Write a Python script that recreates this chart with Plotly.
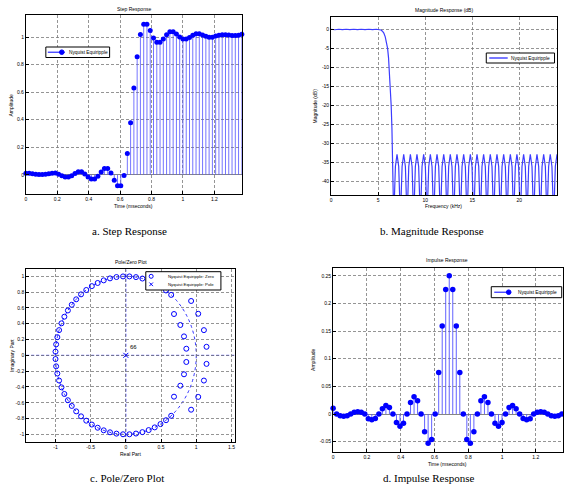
import plotly.graph_objects as go

# ---------------- data ----------------
fs_khz = 48.0
sample_index = list(range(67))
sample_time_ms = [n / fs_khz for n in sample_index]

step_values = [
    0.010, 0.010, 0.008, 0.004, 0.001, 0.001, 0.004, 0.008, 0.011, 0.012,
    0.003, -0.008, -0.016, -0.016, -0.007, 0.009, 0.021, 0.021, 0.006, -0.016,
    -0.031, -0.031, -0.011, 0.020, 0.045, 0.045, 0.013, -0.040, -0.080, -0.080,
    -0.005, 0.155, 0.378, 0.630, 0.857, 1.018, 1.092, 1.092, 1.047, 0.993,
    0.962, 0.962, 0.986, 1.017, 1.038, 1.038, 1.022, 1.000, 0.985, 0.985,
    0.997, 1.013, 1.023, 1.023, 1.015, 1.005, 0.998, 0.998, 1.008, 1.013,
    1.016, 1.016, 1.014, 1.012, 1.012, 1.013, 1.020,
]

impulse_values = [
    0.0105, 0.0, -0.003, -0.004, -0.003, 0.0, 0.003, 0.004, 0.003, 0.0,
    -0.0085, -0.0105, -0.008, 0.0, 0.0095, 0.0155, 0.012, 0.0, -0.0155, -0.022,
    -0.0165, 0.0, 0.021, 0.031, 0.024, 0.0, -0.032, -0.053, -0.046, 0.0,
    0.075, 0.159, 0.225, 0.25, 0.225, 0.159, 0.075, 0.0, -0.046, -0.053,
    -0.032, 0.0, 0.024, 0.031, 0.021, 0.0, -0.0165, -0.022, -0.0155, 0.0,
    0.012, 0.0155, 0.0095, 0.0, -0.008, -0.0105, -0.0085, 0.0, 0.003, 0.004,
    0.003, 0.0, -0.003, -0.004, -0.003, 0.0, 0.0105,
]

mag_freq_khz = [
    0.0, 0.4, 0.8, 1.2, 1.6, 2.0, 2.4, 2.8, 3.2, 3.6, 4.0, 4.4, 4.8,
    5.1, 5.3, 5.45, 5.6, 5.75, 5.9, 6.0, 6.1, 6.2, 6.3, 6.38, 6.46, 6.53, 6.6, 6.65,
    6.83, 7.00, 7.18, 7.36,
    7.54, 7.71, 7.89, 8.07,
    8.25, 8.42, 8.60, 8.77,
    8.95, 9.12, 9.30, 9.48,
    9.66, 9.83, 10.01, 10.19,
    10.37, 10.54, 10.72, 10.90,
    11.08, 11.25, 11.43, 11.61,
    11.79, 11.96, 12.14, 12.31,
    12.49, 12.66, 12.84, 13.02,
    13.20, 13.37, 13.55, 13.73,
    13.91, 14.08, 14.26, 14.44,
    14.62, 14.79, 14.97, 15.15,
    15.33, 15.50, 15.68, 15.85,
    16.03, 16.20, 16.38, 16.56,
    16.74, 16.91, 17.09, 17.27,
    17.45, 17.62, 17.80, 17.98,
    18.16, 18.33, 18.51, 18.69,
    18.87, 19.04, 19.22, 19.39,
    19.57, 19.74, 19.92, 20.10,
    20.28, 20.45, 20.63, 20.81,
    20.99, 21.16, 21.34, 21.52,
    21.70, 21.87, 22.05, 22.23,
    22.41, 22.58, 22.76, 22.93,
    23.11, 23.28, 23.46, 23.64,
    23.82, 24.0,
]

mag_db = [
    0.0, -0.12, 0.0, -0.1, 0.0, -0.1, 0.0, -0.1, 0.0, -0.1, 0.0, -0.1, 0.0,
    -0.05, -0.2, -0.5, -1.0, -2.0, -3.4, -5.0, -7.5, -11.0, -15.5, -20.0, -26.0, -32.5, -40.0, -50.0,
    -36.0, -32.8, -36.0, -50.0,
    -36.0, -32.8, -36.0, -50.0,
    -36.0, -32.8, -36.0, -50.0,
    -36.0, -32.8, -36.0, -50.0,
    -36.0, -32.8, -36.0, -50.0,
    -36.0, -32.8, -36.0, -50.0,
    -36.0, -32.8, -36.0, -50.0,
    -36.0, -32.8, -36.0, -50.0,
    -36.0, -32.8, -36.0, -50.0,
    -36.0, -32.8, -36.0, -50.0,
    -36.0, -32.8, -36.0, -50.0,
    -36.0, -32.8, -36.0, -50.0,
    -36.0, -32.8, -36.0, -50.0,
    -36.0, -32.8, -36.0, -50.0,
    -36.0, -32.8, -36.0, -50.0,
    -36.0, -32.8, -36.0, -50.0,
    -36.0, -32.8, -36.0, -50.0,
    -36.0, -32.8, -36.0, -50.0,
    -36.0, -32.8, -36.0, -50.0,
    -36.0, -32.8, -36.0, -50.0,
    -36.0, -32.8, -36.0, -50.0,
    -36.0, -32.8, -36.0, -50.0,
    -36.0, -32.8, -36.0, -50.0,
    -36.0, -32.8, -36.0, -50.0,
    -36.0, -32.8,
]

zero_re = [
    # upper unit-circle zeros
    0.644, 0.571, 0.492, 0.410, 0.324, 0.235, 0.144, 0.051, -0.040, -0.133,
    -0.225, -0.314, -0.400, -0.483, -0.562, -0.636, -0.705, -0.768, -0.823, -0.873,
    -0.914, -0.948, -0.973, -0.990, -0.999,
    # lower unit-circle zeros
    0.644, 0.571, 0.492, 0.410, 0.324, 0.235, 0.144, 0.051, -0.040, -0.133,
    -0.225, -0.314, -0.400, -0.483, -0.562, -0.636, -0.705, -0.768, -0.823, -0.873,
    -0.914, -0.948, -0.973, -0.990, -0.999,
    # inner passband zeros
    0.684, 0.774, 0.826, 0.859, 0.859, 0.826, 0.774, 0.684,
    # outer passband zeros
    0.927, 1.028, 1.109, 1.146, 1.146, 1.109, 1.028, 0.927,
]
zero_im = [
    0.765, 0.821, 0.870, 0.912, 0.946, 0.972, 0.990, 0.999, 0.999, 0.991,
    0.974, 0.949, 0.916, 0.876, 0.827, 0.772, 0.709, 0.640, 0.568, 0.489,
    0.405, 0.319, 0.230, 0.139, 0.047,
    -0.765, -0.821, -0.870, -0.912, -0.946, -0.972, -0.990, -0.999, -0.999, -0.991,
    -0.974, -0.949, -0.916, -0.876, -0.827, -0.772, -0.709, -0.640, -0.568, -0.489,
    -0.405, -0.319, -0.230, -0.139, -0.047,
    0.523, 0.384, 0.240, 0.084, -0.084, -0.240, -0.384, -0.523,
    0.688, 0.526, 0.319, 0.108, -0.108, -0.319, -0.526, -0.688,
]
pole_re = [0.0]
pole_im = [0.0]
pole_multiplicity = "66"

step_xticks = [0, 0.2, 0.4, 0.6, 0.8, 1.0, 1.2]
step_xticktext = ["0", "0.2", "0.4", "0.6", "0.8", "1", "1.2"]
step_yticks = [0, 0.2, 0.4, 0.6, 0.8, 1.0]
step_yticktext = ["0", "0.2", "0.4", "0.6", "0.8", "1"]
mag_xticks = [0, 5, 10, 15, 20]
mag_xticktext = ["0", "5", "10", "15", "20"]
mag_yticks = [0, -5, -10, -15, -20, -25, -30, -35, -40]
mag_yticktext = ["0", "-5", "-10", "-15", "-20", "-25", "-30", "-35", "-40"]
pz_xticks = [-1, -0.5, 0, 0.5, 1, 1.5]
pz_xticktext = ["-1", "-0.5", "0", "0.5", "1", "1.5"]
pz_yticks = [1, 0.8, 0.6, 0.4, 0.2, 0, -0.2, -0.4, -0.6, -0.8, -1]
pz_yticktext = ["1", "0.8", "0.6", "0.4", "0.2", "0", "-0.2", "-0.4", "-0.6", "-0.8", "-1"]
imp_xticks = [0, 0.2, 0.4, 0.6, 0.8, 1.0, 1.2]
imp_xticktext = ["0", "0.2", "0.4", "0.6", "0.8", "1", "1.2"]
imp_yticks = [-0.05, 0, 0.05, 0.1, 0.15, 0.2, 0.25]
imp_yticktext = ["-0.05", "0", "0.05", "0.1", "0.15", "0.2", "0.25"]

series_name = "Nyquist Equiripple"

# ---------------- layout helpers ----------------
W, H = 564, 488
SANS = "Liberation Sans, Arial, sans-serif"
SERIF = "Liberation Serif, Times New Roman, serif"
BLUE = "#0000ff"
STEM_BLUE = "rgb(80,80,255)"
MAG_BLUE = "rgb(60,60,255)"


def px(x):
    return x / W


def py(y):
    return 1 - y / H


def stems(xs, ys):
    sx, sy = [], []
    for x, y in zip(xs, ys):
        sx += [x, x, None]
        sy += [0, y, None]
    return sx, sy


def axis(domain, rng, tickvals, ticktext, anchor, zeroline=False):
    return dict(
        domain=domain, range=rng, tickvals=tickvals, ticktext=ticktext,
        anchor=anchor, showline=True, linecolor="black", linewidth=1,
        mirror=True, ticks="inside", ticklen=3, tickcolor="black",
        tickfont=dict(family=SANS, size=5, color="black"),
        showgrid=True, gridcolor="#7a7a7a", gridwidth=0.8, griddash="3px,2px",
        zeroline=zeroline, zerolinecolor="#666666", zerolinewidth=0.8,
        fixedrange=True,
    )


fig = go.Figure()

# ---- a. Step response ----
sx, sy = stems(sample_time_ms, step_values)
fig.add_trace(go.Scatter(x=sx, y=sy, mode="lines", line=dict(color=STEM_BLUE, width=0.8),
                         xaxis="x", yaxis="y", hoverinfo="skip"))
fig.add_trace(go.Scatter(x=sample_time_ms, y=step_values, mode="markers", name=series_name,
                         marker=dict(color=BLUE, size=5), cliponaxis=False,
                         xaxis="x", yaxis="y"))

# ---- b. Magnitude response ----
fig.add_trace(go.Scatter(x=mag_freq_khz, y=mag_db, mode="lines", name=series_name,
                         line=dict(color=MAG_BLUE, width=1.2),
                         xaxis="x2", yaxis="y2"))

# ---- c. Pole/zero ----
fig.add_trace(go.Scatter(x=zero_re, y=zero_im, mode="markers", name=series_name + ": Zero",
                         marker=dict(symbol="circle-open", color=BLUE, size=5, line=dict(width=1)),
                         xaxis="x3", yaxis="y3"))
fig.add_trace(go.Scatter(x=pole_re, y=pole_im, mode="markers", name=series_name + ": Pole",
                         marker=dict(symbol="x-thin-open", color=BLUE, size=5, line=dict(width=1, color=BLUE)),
                         xaxis="x3", yaxis="y3"))

# ---- d. Impulse response ----
ix, iy = stems(sample_time_ms, impulse_values)
fig.add_trace(go.Scatter(x=ix, y=iy, mode="lines", line=dict(color=STEM_BLUE, width=0.9),
                         xaxis="x4", yaxis="y4", hoverinfo="skip"))
fig.add_trace(go.Scatter(x=sample_time_ms, y=impulse_values, mode="markers", name=series_name,
                         marker=dict(color=BLUE, size=5.5), cliponaxis=False,
                         xaxis="x4", yaxis="y4"))

fig.update_layout(
    width=W, height=H, autosize=False, showlegend=False,
    margin=dict(l=0, r=0, t=0, b=0),
    paper_bgcolor="white", plot_bgcolor="white",
    xaxis=axis([px(25), px(241.7)], [0, 1.375], step_xticks, step_xticktext, "y"),
    yaxis=axis([py(194.3), py(15)], [-0.142, 1.16], step_yticks, step_yticktext, "x", zeroline=True),
    xaxis2=axis([px(331.3), px(558)], [0, 24], mag_xticks, mag_xticktext, "y2"),
    yaxis2=axis([py(195), py(16.7)], [-43.5, 3.3], mag_yticks, mag_yticktext, "x2"),
    xaxis3=axis([px(25.3), px(235.3)], [-1.415, 1.557], pz_xticks, pz_xticktext, "y3"),
    yaxis3=axis([py(441.7), py(269.3)], [-1.093, 1.089], pz_yticks, pz_yticktext, "x3"),
    xaxis4=axis([px(333.3), 1.0], [0, 1.361], imp_xticks, imp_xticktext, "y4"),
    yaxis4=axis([py(452), py(267.7)], [-0.0687, 0.2646], imp_yticks, imp_yticktext, "x4", zeroline=True),
)

shapes = []
# pole/zero reference lines: unit circle and axes
shapes.append(dict(type="circle", xref="x3", yref="y3", x0=-1, y0=-1, x1=1, y1=1,
                   line=dict(color=BLUE, width=0.8, dash="3px,3px"), layer="below"))
shapes.append(dict(type="line", xref="x3", yref="y3", x0=0, x1=0, y0=-1.093, y1=1.089,
                   line=dict(color=BLUE, width=0.8, dash="3px,2px"), layer="below"))
shapes.append(dict(type="line", xref="x3", yref="y3", x0=-1.415, x1=1.557, y0=0, y1=0,
                   line=dict(color=BLUE, width=0.8, dash="3px,2px"), layer="below"))

ann = []


def text(x, y, s, size=5, family=SANS, angle=0, xanchor="center", yanchor="middle"):
    ann.append(dict(x=px(x), y=py(y), xref="paper", yref="paper", text=s, showarrow=False,
                    font=dict(family=family, size=size, color="black"), textangle=angle,
                    xanchor=xanchor, yanchor=yanchor))


# ---- hand-drawn legend boxes (MATLAB style) ----
def box(x0, y0, x1, y1):
    shapes.append(dict(type="rect", xref="paper", yref="paper", x0=px(x0), x1=px(x1),
                       y0=py(y1), y1=py(y0), fillcolor="white",
                       line=dict(color="black", width=1)))


def key_line(x0, x1, y, color, width):
    shapes.append(dict(type="line", xref="paper", yref="paper", x0=px(x0), x1=px(x1),
                       y0=py(y), y1=py(y), line=dict(color=color, width=width)))


def key_dot(cx, cy, r, filled=True):
    shapes.append(dict(type="circle", xref="paper", yref="paper",
                       x0=px(cx - r), x1=px(cx + r), y0=py(cy + r), y1=py(cy - r),
                       fillcolor=BLUE if filled else "rgba(0,0,0,0)",
                       line=dict(color=BLUE, width=1)))


def key_x(cx, cy, r):
    for dy in (-r, r):
        shapes.append(dict(type="line", xref="paper", yref="paper",
                           x0=px(cx - r), x1=px(cx + r), y0=py(cy + dy), y1=py(cy - dy),
                           line=dict(color=BLUE, width=1)))


# step legend
box(45, 47, 109, 57.5)
key_line(47, 64, 52.2, BLUE, 1)
key_dot(61, 52.2, 2.3)
text(66, 52.4, series_name, xanchor="left", size=4.8)
# magnitude legend
box(487, 53, 555.5, 63)
key_line(490, 508.5, 58, "rgb(120,120,255)", 2)
text(510, 58.2, series_name, xanchor="left", size=4.8)
# pole/zero legend
box(145.3, 271.7, 220.7, 290)
key_dot(150.7, 276.3, 2.0, filled=False)
text(166, 276.5, series_name + ": Zero", xanchor="left", size=4.3)
key_x(150.7, 284.3, 1.8)
text(166, 284.5, series_name + ": Pole", xanchor="left", size=4.3)
# impulse legend
box(492, 286.7, 562.7, 297.7)
key_line(495, 512, 292.2, BLUE, 1)
key_dot(509.5, 292.2, 2.3)
text(517, 292.4, series_name, xanchor="left", size=4.8)

# titles
text(133, 9.5, "Step Response")
text(444.5, 10.5, "Magnitude Response (dB)")
text(130, 262, "Pole/Zero Plot")
text(448, 259.5, "Impulse Response")
# axis labels
text(133, 206.5, "Time (mseconds)")
text(10.5, 105, "Amplitude", angle=-90)
text(444.5, 206.5, "Frequency (kHz)")
text(315.5, 106, "Magnitude (dB)", angle=-90)
text(130, 453.5, "Real Part")
text(11, 355, "Imaginary Part", angle=-90)
text(448, 464, "Time (mseconds)")
text(313, 360, "Amplitude", angle=-90)
# captions
text(129, 231, "a. Step Response", size=11, family=SERIF)
text(433, 231, "b. Magnitude Response", size=11, family=SERIF)
text(126, 478, "c. Pole/Zero Plot", size=11, family=SERIF)
text(429, 478, "d. Impulse Response", size=11, family=SERIF)

# pole multiplicity label
ann.append(dict(x=0.03, y=0.04, xref="x3", yref="y3", text=pole_multiplicity, showarrow=False,
                font=dict(family=SANS, size=6, color="black"), xanchor="left", yanchor="bottom"))

fig.update_layout(shapes=shapes, annotations=ann)

fig.write_html("out.html",
               config={"displayModeBar": False, "staticPlot": True},
               post_script="document.body.style.margin='0';document.body.style.padding='0';"
                           "document.body.style.overflow='hidden';")
